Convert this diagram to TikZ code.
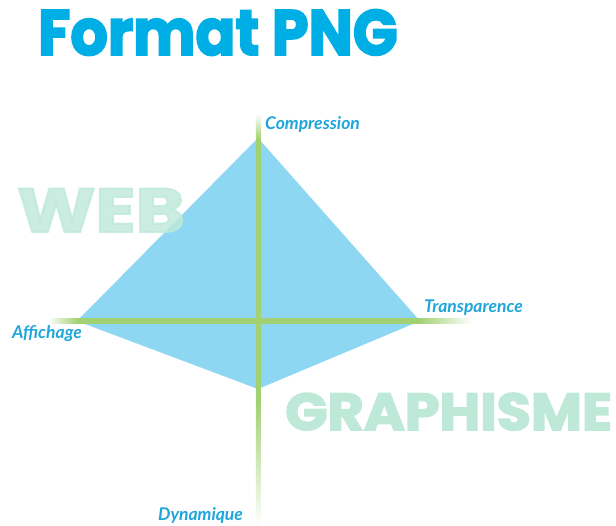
\documentclass[tikz,border=0pt]{standalone}
\usepackage{fontspec}
\setmainfont{Lato}
\newfontfamily\heavyfont{Poppins}[BoldFeatures={FakeBold=3}]
\definecolor{titleblue}{HTML}{00AEE6}
\definecolor{kiteblue}{HTML}{8DD7F2}
\definecolor{axisgreen}{HTML}{A2D173}
\definecolor{mint}{HTML}{BEE9D9}
\definecolor{labelblue}{HTML}{1EA5DA}
\pgfdeclareverticalshading{vaxis}{100bp}{color(0bp)=(white); color(25bp)=(white); color(40bp)=(axisgreen); color(72bp)=(axisgreen); color(75bp)=(white); color(100bp)=(white)}
\pgfdeclarehorizontalshading{haxis}{100bp}{color(0bp)=(white); color(25bp)=(white); color(28.5bp)=(axisgreen); color(68.8bp)=(axisgreen); color(75bp)=(white); color(100bp)=(white)}
\tikzset{
  axislabel/.style={text=labelblue, font=\fontsize{17.5}{17.5}\selectfont\bfseries\itshape, inner sep=0pt, anchor=base west},
  bigword/.style={text=mint, inner sep=0pt, anchor=base west},
}
\begin{document}
\begin{tikzpicture}[x=1pt,y=1pt]
\useasboundingbox (0,0) rectangle (616,-526);
\coordinate (T) at (258,-138);
\coordinate (R) at (420,-321);
\coordinate (B) at (258,-389);
\coordinate (L) at (77,-321);
\coordinate (C) at (258,-321);
\coordinate (Htl) at (48,-318.75);
\coordinate (Hbr) at (472,-323.25);
\coordinate (Vtl) at (255.75,-114);
\coordinate (Vbr) at (260.25,-526);
% title
\node[text=titleblue, inner sep=0pt, anchor=base west, font=\heavyfont\fontsize{64}{64}\selectfont\bfseries] (title) at (38,-55) {\scalebox{0.92}[1]{Format PNG}};
% kite
\fill[kiteblue] (T) -- (R) -- (B) -- (L) -- cycle;
% axes
\shade[shading=haxis] (Htl) rectangle (Hbr);
\shade[shading=vaxis] (Vtl) rectangle (Vbr);
% big words
\node[bigword, opacity=0.8, font=\heavyfont\fontsize{62}{62}\selectfont\bfseries] (web) at (17,-232) {\scalebox{1.2}[1]{WEB}};
\node[bigword, font=\heavyfont\fontsize{52}{52}\selectfont\bfseries] (graph) at (285,-430) {\scalebox{1.07}[1]{GRAPHISME}};
% labels
\node[axislabel] (comp) at (265,-130) {Compression};
\node[axislabel] (trans) at (424,-313) {Transparence};
\node[axislabel] (aff) at (12,-339) {Affichage};
\node[axislabel] (dyn) at (158,-520) {Dynamique};
\end{tikzpicture}
\end{document}
